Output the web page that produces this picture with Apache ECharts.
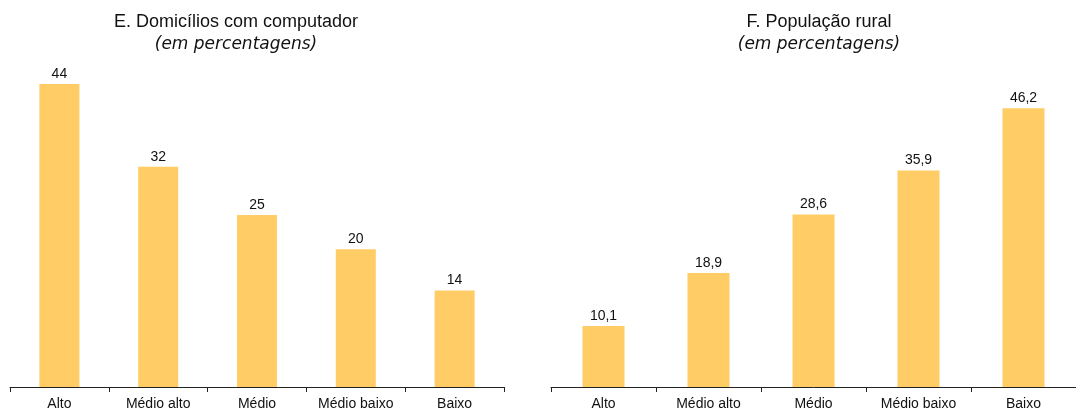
<!DOCTYPE html>
<html><head><meta charset="utf-8">
<script src="https://cdn.jsdelivr.net/npm/echarts@6/dist/echarts.min.js"></script>
<style>html,body{margin:0;padding:0;background:#fff}#c{width:1076px;height:411px}</style>
</head><body><div id="c"></div>
<script>
const categories = ['Alto', 'Médio alto', 'Médio', 'Médio baixo', 'Baixo'];
const computadorValues = [44, 32, 25, 20, 14];
const ruralValues = [10.1, 18.9, 28.6, 35.9, 46.2];
const titleE = 'E. Domicílios com computador';
const titleF = 'F. População rural';
const subtitle = '(em percentagens)';

const font = 'Liberation Sans, Arial, sans-serif';
const barColor = '#ffcc66';
const fmt = v => String(v).replace('.', ',');

const chart = echarts.init(document.getElementById('c'), null, {renderer: 'canvas'});
const xAxisCommon = {
  type: 'category', data: categories,
  axisLine: {lineStyle: {color: '#222', width: 1}},
  axisTick: {show: true, length: 5, lineStyle: {color: '#222'}},
  axisLabel: {color: '#111', fontSize: 14, fontFamily: font, margin: 10, interval: 0}
};
const yAxisCommon = {type: 'value', min: 0, show: false, splitLine: {show: false}};
const titleCommon = {
  textAlign: 'center', top: 8, itemGap: 5,
  textStyle: {fontFamily: font, fontSize: 18, fontWeight: 'normal', color: '#111'},
  subtextStyle: {fontFamily: 'DejaVu Sans, sans-serif', fontSize: 17, fontStyle: 'italic', color: '#111'}
};
const labelCommon = {show: true, position: 'top', distance: 3, color: '#111', fontSize: 14, fontFamily: font, formatter: p => fmt(p.value)};
chart.setOption({
  animation: false,
  title: [
    Object.assign({}, titleCommon, {text: titleE, subtext: subtitle, left: 231}),
    Object.assign({}, titleCommon, {text: titleF, subtext: subtitle, left: 814})
  ],
  grid: [
    {left: 10, width: 494, top: 60, height: 328},
    {left: 551, width: 537, top: 60, height: 328}
  ],
  xAxis: [
    Object.assign({}, xAxisCommon, {gridIndex: 0}),
    Object.assign({}, xAxisCommon, {gridIndex: 1})
  ],
  yAxis: [
    Object.assign({}, yAxisCommon, {gridIndex: 0, max: 47.5}),
    Object.assign({}, yAxisCommon, {gridIndex: 1, max: 54.2})
  ],
  series: [
    {type: 'bar', xAxisIndex: 0, yAxisIndex: 0, data: computadorValues, barWidth: '40.5%',
     itemStyle: {color: barColor}, label: labelCommon},
    {type: 'bar', xAxisIndex: 1, yAxisIndex: 1, data: ruralValues, barWidth: '40%',
     itemStyle: {color: barColor}, label: labelCommon}
  ]
});
</script></body></html>
